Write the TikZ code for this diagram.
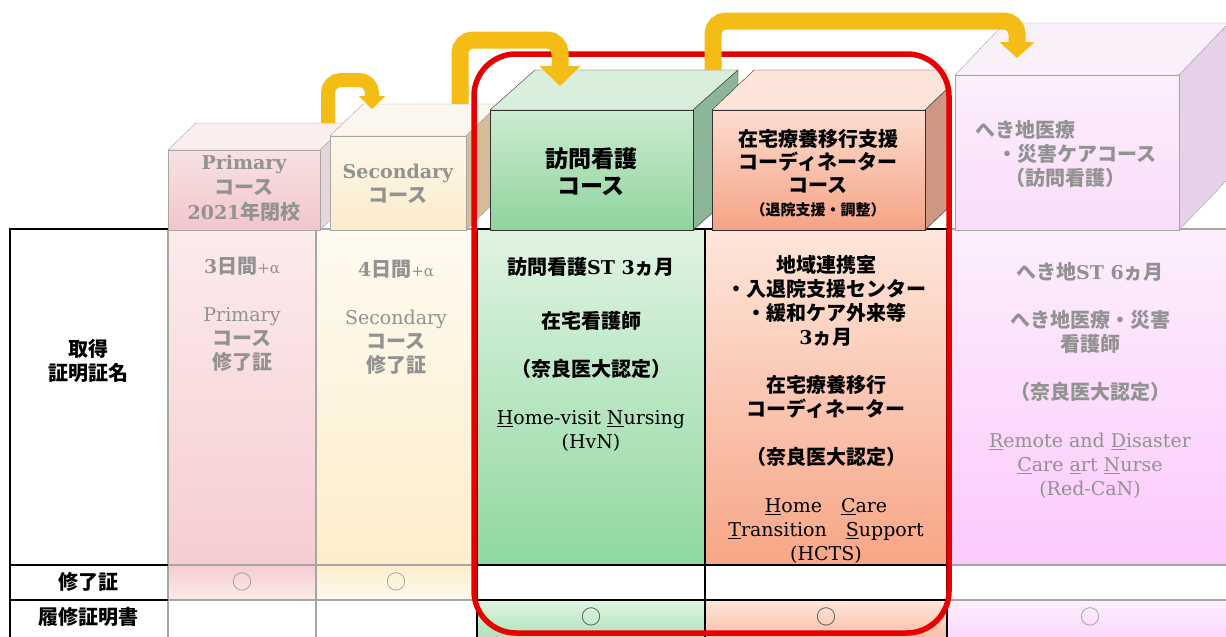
\documentclass[tikz,border=0pt]{standalone}
\usepackage{fontspec}
\usepackage{tikz}
\usetikzlibrary{arrows.meta}
\newfontfamily\jp{Noto Sans CJK JP}
\newfontfamily\latfont{DejaVu Serif}
\newcommand{\lat}[1]{{\latfont\fontsize{19}{24}\selectfont #1}}
\newcommand{\latm}[1]{{\latfont\mdseries\fontsize{19}{24}\selectfont #1}}
\definecolor{txtgray}{HTML}{929292}
\definecolor{lingray}{HTML}{A6A6A6}
\definecolor{arrowyel}{HTML}{F4BC14}
\definecolor{ringred}{HTML}{E60000}
% column colours (top / bottom)
\definecolor{priT}{HTML}{FCEBEC}\definecolor{priB}{HTML}{F5CDD1}
\definecolor{secT}{HTML}{FEFAF0}\definecolor{secB}{HTML}{FDEDCB}
\definecolor{hvnT}{HTML}{E1F4E3}\definecolor{hvnB}{HTML}{8FD8A0}
\definecolor{hctT}{HTML}{FEE6DC}\definecolor{hctB}{HTML}{F7A686}
\definecolor{rdcT}{HTML}{FCEFFC}\definecolor{rdcB}{HTML}{FCC9FC}
% cube colours (front top / front bottom / top face / side face)
\definecolor{priFT}{HTML}{F8E1E3}\definecolor{priFB}{HTML}{F2C6CA}
\definecolor{priTP}{HTML}{FAEEEF}\definecolor{priSD}{HTML}{E6D6D8}
\definecolor{secFT}{HTML}{FDF7EA}\definecolor{secFB}{HTML}{FCEBCB}
\definecolor{secTP}{HTML}{FBF7EE}\definecolor{secSD}{HTML}{D4BC98}
\definecolor{hvnFT}{HTML}{CDEBD0}\definecolor{hvnFB}{HTML}{8ED49D}
\definecolor{hvnTP}{HTML}{D9EFDB}\definecolor{hvnSD}{HTML}{8DB598}
\definecolor{hctFT}{HTML}{FCDCCF}\definecolor{hctFB}{HTML}{F5A385}
\definecolor{hctTP}{HTML}{FCE4DB}\definecolor{hctSD}{HTML}{CF9684}
\definecolor{rdcFT}{HTML}{FCEEFC}\definecolor{rdcFB}{HTML}{F9DCF9}
\definecolor{rdcTP}{HTML}{FAF0FA}\definecolor{rdcSD}{HTML}{E5D2E8}
\tikzset{
  body/.style={font=\jp\bfseries\fontsize{20}{24}\selectfont,
               align=center, inner sep=0pt},
  head/.style={body},
  okmark/.style={font=\jp\fontsize{20}{20}\selectfont, inner sep=0pt},
  labline/.style={draw=black, line width=1.8pt},
  yel/.style={draw=arrowyel, rounded corners=13pt},
}
% #1 colour prefix, #2-#5 front face, #6/#7 depth, #8 edge colour
\newcommand{\drawcube}[8]{%
  \filldraw[draw=#8, fill=#1TP, line join=round]
    (#2,#3) -- ++(#6,#7) -- ++(#4-#2,0) -- (#4,#3) -- cycle;
  \filldraw[draw=#8, fill=#1SD, line join=round]
    (#4,#3) -- ++(#6,#7) -- ++(0,#5-#3) -- (#4,#5) -- cycle;
  \draw[draw=#8, top color=#1FT, bottom color=#1FB] (#2,#3) rectangle (#4,#5);
}
\begin{document}
\begin{tikzpicture}[x=1pt, y=-1pt]
  \useasboundingbox (0,0) rectangle (1226,637);
  \clip (0,0) rectangle (1226,637);
  %% table body
  \foreach \col/\xa/\xb/\ln in {pri/168/316/lingray, sec/316/477/lingray,
      rdc/947/1260/lingray, hvn/477/705/black, hct/705/947/black}
    \draw[draw=\ln, line width=1.3pt, top color=\col T, bottom color=\col B]
      (\xa,229) rectangle (\xb,565);
  \foreach \xa/\xb/\ln/\fa/\fb in {168/316/lingray/priB/priT, 316/477/lingray/secB/secT,
      947/1260/lingray/white/white, 477/705/black/white/white, 705/947/black/white/white}
    \draw[draw=\ln, line width=1.3pt, top color=\fa, bottom color=\fb]
      (\xa,565) rectangle (\xb,600);
  \foreach \xa/\xb/\ln/\fa/\fb in {168/316/lingray/white/white, 316/477/lingray/white/white,
      947/1260/lingray/rdcT/rdcB, 477/705/black/hvnT/hvnB, 705/947/black/hctT/hctB}
    \draw[draw=\ln, line width=1.3pt, top color=\fa, bottom color=\fb]
      (\xa,600) rectangle (\xb,660);
  %% label column
  \draw[labline] (168,229) -- (10,229) -- (10,660);
  \draw[labline] (10,565) -- (168,565);
  \draw[labline] (10,600) -- (168,600);
  \node[body] (getLbl) at (88,361) {取得\\証明証名};
  \node[body] (cmpLbl) at (88,582) {修了証};
  \node[body] (recLbl) at (88,617) {履修証明書};
  %% cubes
  \drawcube{pri}{168}{150}{320}{230}{28}{-27}{lingray}
  \drawcube{sec}{330}{136}{466}{230}{33}{-32}{lingray}
  \drawcube{hvn}{490}{110}{693}{230}{45}{-40}{black!80}
  \begin{scope}
    \clip (0,0) rectangle (947,240);
    \drawcube{hct}{712}{110}{925}{230}{42}{-40}{black!80}
  \end{scope}
  \drawcube{rdc}{955}{75}{1179}{230}{50}{-52}{lingray}
  \node[head, text=txtgray, font=\jp\bfseries\fontsize{20}{25}\selectfont]
    (priHead) at (244,188) {\lat{Primary}\\コース\\\lat{2021}年閉校};
  \node[head, text=txtgray] (secHead) at (398,184) {\lat{Secondary}\\コース};
  \node[head, font=\jp\bfseries\fontsize{23}{27}\selectfont]
    (hvnHead) at (591,172) {訪問看護\\コース};
  \node[head, font=\jp\bfseries\fontsize{20}{23}\selectfont]
    (hctHead) at (818,173) {在宅療養移行支援\\コーディネーター\\コース\\
      {\fontsize{15}{20}\selectfont （退院支援・調整）}};
  \node[head, text=txtgray, align=left, anchor=north west]
    (rdcHead) at (975,120) {へき地医療\\\hspace*{22pt}・災害ケアコース\\\hspace*{30pt}（訪問看護）};
  %% column texts
  \node[body, text=txtgray, anchor=north] (priBody) at (242,257)
    {\lat{3}日間\latm{\fontsize{15}{15}\selectfont +α}\\[24pt]
     \latm{Primary}\\コース\\修了証};
  \node[body, text=txtgray, anchor=north] (secBody) at (396,260)
    {\lat{4}日間\latm{\fontsize{15}{15}\selectfont +α}\\[24pt]
     \latm{Secondary}\\コース\\修了証};
  \node[body, anchor=north] (hvnBody) at (591,257)
    {訪問看護\lat{ST 3}ヵ月\\[30pt]在宅看護師\\[24pt]（奈良医大認定）\\[24pt]
     \latm{\underline{H}ome-visit \underline{N}ursing}\\\latm{(HvN)}};
  \node[body, anchor=north] (hctBody) at (826,255)
    {地域連携室\\・入退院支援センター\\・緩和ケア外来等\\\lat{3}ヵ月\\[24pt]
     在宅療養移行\\コーディネーター\\[24pt]（奈良医大認定）\\[24pt]
     \latm{\underline{H}ome\quad\underline{C}are}\\
     \latm{\underline{T}ransition\quad\underline{S}upport}\\\latm{(HCTS)}};
  \node[body, text=txtgray, anchor=north] (rdcBody) at (1090,262)
    {へき地\lat{ST 6}ヵ月\\[24pt]へき地医療・災害\\看護師\\[24pt]（奈良医大認定）\\[24pt]
     \latm{\underline{R}emote and \underline{D}isaster}\\
     \latm{\underline{C}are \underline{a}rt \underline{N}urse}\\\latm{(Red-CaN)}};
  %% marks
  \node[okmark, text=txtgray] (priMark) at (242,582) {○};
  \node[okmark, text=txtgray] (secMark) at (396,582) {○};
  \node[okmark, text=black!75] (hvnMark) at (591,617) {○};
  \node[okmark, text=black!75] (hctMark) at (826,617) {○};
  \node[okmark, text=txtgray] (rdcMark) at (1090,617) {○};
  %% highlight frame
  \draw[ringred, line width=5.5pt, rounded corners=42pt] (474,54) rectangle (949,633);
  %% course arrows
  \coordinate (priTop) at (328,123);
  \coordinate (secIn)  at (372,109);
  \coordinate (secTop) at (460,104);
  \coordinate (hvnIn)  at (560,86);
  \coordinate (hvnTop) at (713,70);
  \coordinate (rdcIn)  at (1017,58);
  \draw[yel, line width=14pt, -{Triangle[width=26pt, length=13pt]}]
    (priTop) -- ++(0,-43) -| (secIn);
  \draw[yel, line width=17pt, -{Triangle[width=40pt, length=20pt]}]
    (secTop) -- ++(0,-64) -| (hvnIn);
  \draw[yel, line width=17pt, -{Triangle[width=34pt, length=16pt]}]
    (hvnTop) -- ++(0,-49) -| (rdcIn);
\end{tikzpicture}
\end{document}
